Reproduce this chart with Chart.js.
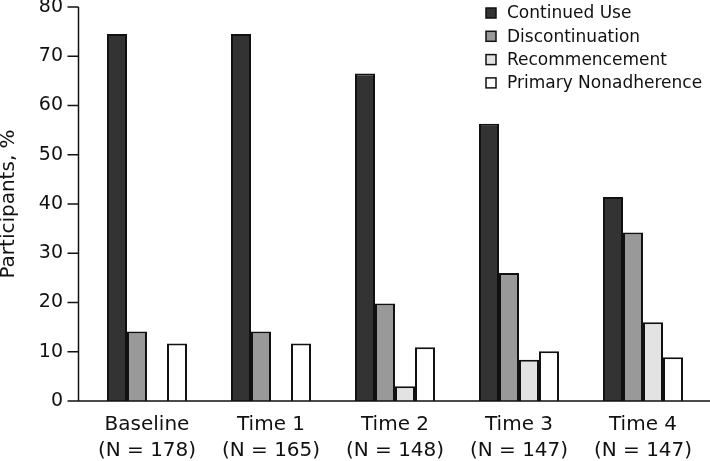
<!DOCTYPE html>
<html>
<head>
<meta charset="utf-8">
<script src="https://cdn.jsdelivr.net/npm/chart.js@4.4.1/dist/chart.umd.min.js"></script>
<style>
  html, body { margin: 0; padding: 0; background: #fff; }
  #myChart { display: block; }
</style>
</head>
<body>
<canvas id="myChart" width="710" height="461"></canvas>
<script>
const timepoints = [
  ['Baseline', '(N = 178)'],
  ['Time 1', '(N = 165)'],
  ['Time 2', '(N = 148)'],
  ['Time 3', '(N = 147)'],
  ['Time 4', '(N = 147)'],
];
const continuedUse = [74.5, 74.5, 66.5, 56.3, 41.4];
const discontinuation = [14.1, 14.1, 19.8, 26.0, 34.2];
const recommencement = [null, null, 3.0, 8.4, 16.0];
const primaryNonadherence = [11.7, 11.7, 10.9, 10.1, 8.9];
const yTicks = [0, 10, 20, 30, 40, 50, 60, 70, 80];

const FONT = "'DejaVu Sans', sans-serif";
const INK = '#111111';

// axis lines sit a little left of the first category, like the original figure
const axisLines = {
  id: 'axisLines',
  afterDraw(chart) {
    const { ctx, chartArea } = chart;
    const y = chart.scales.y;
    const axisX = chartArea.left - 6.5;
    ctx.save();
    ctx.strokeStyle = INK;
    ctx.lineWidth = 1.5;
    ctx.beginPath();
    ctx.moveTo(axisX, y.getPixelForValue(80));
    ctx.lineTo(axisX, chartArea.bottom);
    ctx.lineTo(chart.width, chartArea.bottom);
    yTicks.forEach((v) => {
      const py = y.getPixelForValue(v);
      ctx.moveTo(axisX - 11, py);
      ctx.lineTo(axisX, py);
    });
    ctx.stroke();
    ctx.restore();
  },
};

// legend boxes stacked in the top right corner
const boxLegend = {
  id: 'boxLegend',
  afterDraw(chart) {
    const { ctx } = chart;
    ctx.save();
    ctx.font = '17px ' + FONT;
    ctx.textBaseline = 'middle';
    chart.data.datasets.forEach((ds, i) => {
      const cy = 13 + i * 23.3;
      ctx.fillStyle = ds.backgroundColor;
      ctx.fillRect(486, cy - 5, 10, 10);
      ctx.strokeStyle = INK;
      ctx.lineWidth = 1.5;
      ctx.strokeRect(486, cy - 5, 10, 10);
      ctx.fillStyle = INK;
      ctx.fillText(ds.label, 507, cy + 1);
    });
    ctx.restore();
  },
};

const chart1 = document.getElementById('myChart').getContext('2d');

const myChart = new Chart(chart1, {
  type: 'bar',
  data: {
    labels: timepoints,
    datasets: [
      { label: 'Continued Use', data: continuedUse, backgroundColor: '#333333' },
      { label: 'Discontinuation', data: discontinuation, backgroundColor: '#999999' },
      { label: 'Recommencement', data: recommencement, backgroundColor: '#e3e3e3' },
      { label: 'Primary Nonadherence', data: primaryNonadherence, backgroundColor: '#ffffff' },
    ].map((ds) => ({ ...ds, borderColor: INK, borderWidth: 2, borderSkipped: 'bottom' })),
  },
  options: {
    responsive: false,
    animation: false,
    categoryPercentage: 0.645,
    barPercentage: 1,
    layout: {
      padding: { top: 7, right: 5, bottom: 0, left: 0 },
    },
    scales: {
      x: {
        grid: { display: false, drawTicks: false },
        border: { display: false },
        ticks: {
          color: INK,
          padding: 11,
          maxRotation: 0,
          autoSkip: false,
          font: { family: FONT, size: 20, lineHeight: 1.3 },
        },
        afterFit(scale) {
          scale.height = 60;
          scale.paddingLeft = 0;
          scale.paddingRight = 0;
        },
      },
      y: {
        min: 0,
        max: 80,
        grid: { display: false, drawTicks: false },
        border: { display: false },
        afterBuildTicks(scale) {
          scale.ticks = yTicks.map((v) => ({ value: v }));
        },
        ticks: {
          color: INK,
          padding: 22,
          font: { family: FONT, size: 19 },
        },
        title: {
          display: true,
          text: 'Participants, %',
          color: INK,
          padding: { top: -1, bottom: 0 },
          font: { family: FONT, size: 20, lineHeight: 1 },
        },
        afterFit(scale) {
          scale.width = 85;
          scale.paddingTop = 0;
          scale.paddingBottom = 0;
        },
      },
    },
    plugins: {
      legend: { display: false },
      tooltip: { enabled: false },
    },
  },
  plugins: [axisLines, boxLegend],
});
</script>
</body>
</html>
